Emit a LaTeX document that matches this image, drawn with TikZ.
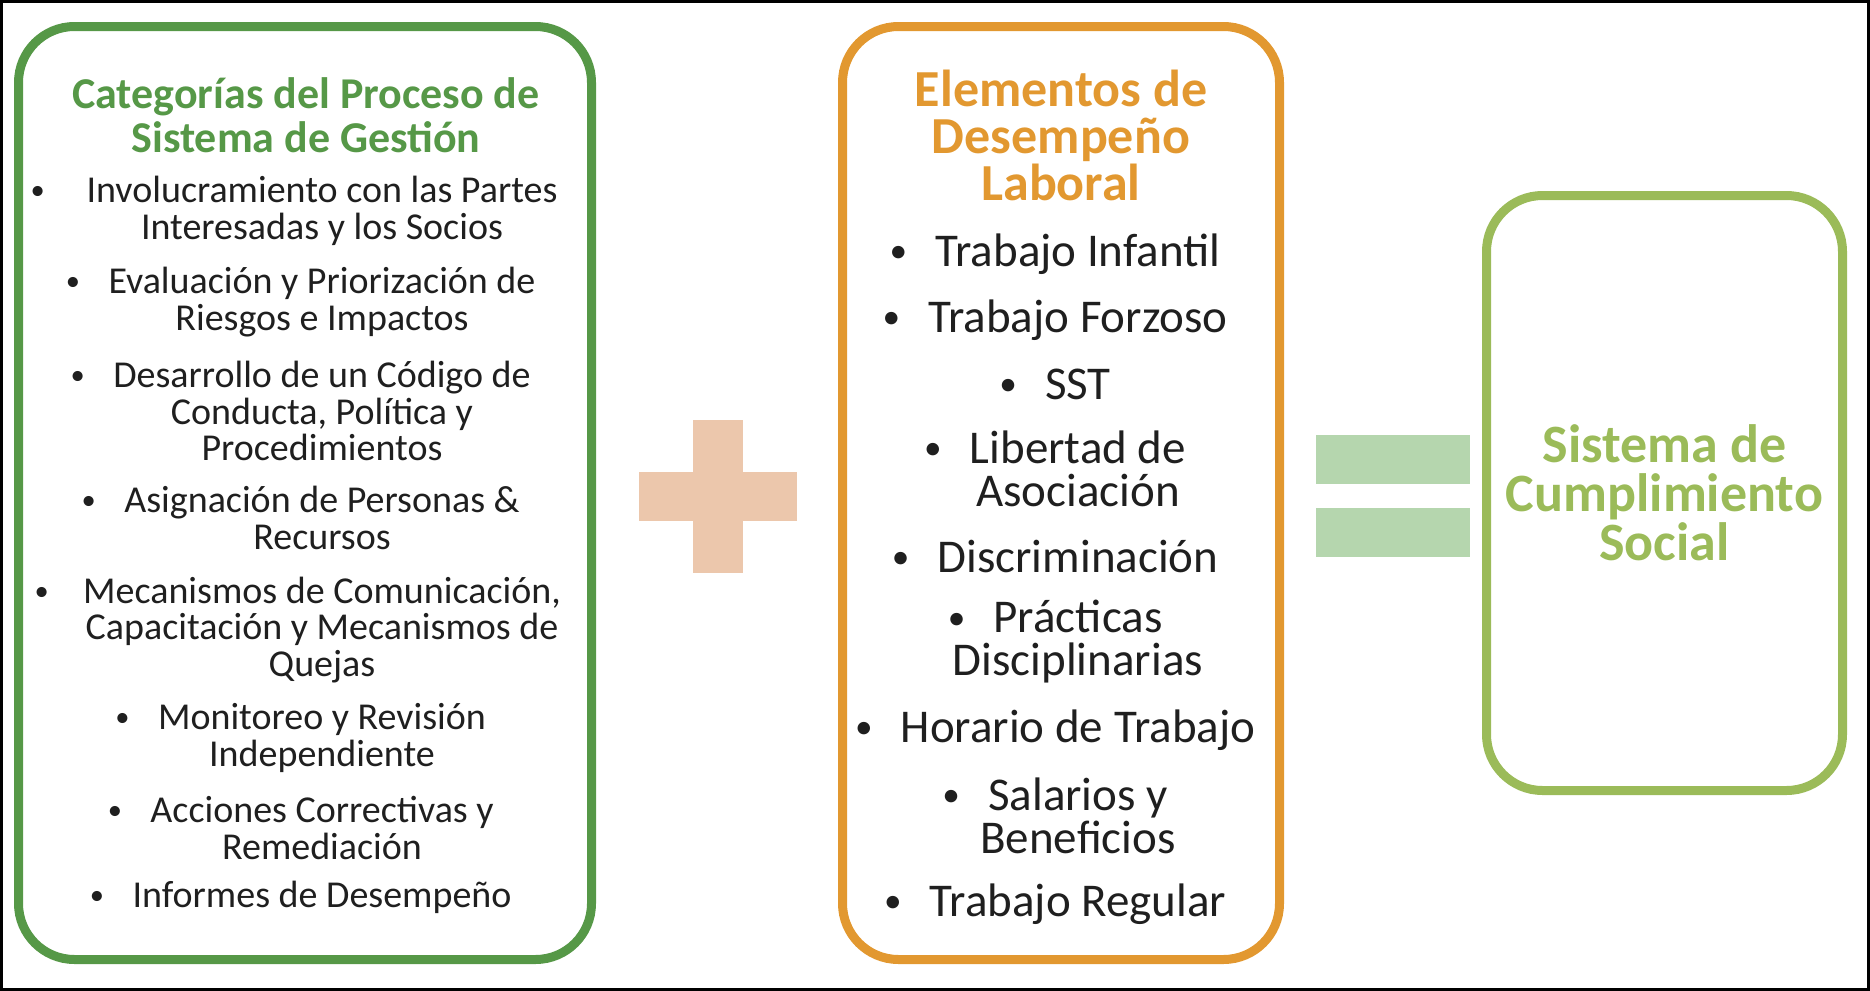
\documentclass[tikz,border=0pt]{standalone}
\usepackage{fontspec}
\setmainfont{Carlito}
\usetikzlibrary{positioning}

\definecolor{catgreen}{RGB}{86,152,71}
\definecolor{elemorange}{RGB}{226,152,48}
\definecolor{sysgreen}{RGB}{155,187,89}
\definecolor{pluspeach}{RGB}{236,199,172}
\definecolor{eqgreen}{RGB}{181,214,174}

\newcommand{\bul}[1]{\llap{\raisebox{0.08em}{\scalebox{0.75}{\textbullet}}\hspace{#1}}}

\tikzset{
	roundbox/.style={draw, line width=4.5pt, rounded corners=28pt, inner sep=0pt},
	catitem/.style={align=center, text=black!88, inner sep=0pt, font=\fontsize{19}{18.3}\selectfont},
	elemitem/.style={align=center, text=black!88, inner sep=0pt, font=\fontsize{23.5}{21.5}\selectfont},
	title/.style={align=center, inner sep=0pt, font=\bfseries\fontsize{22}{22}\selectfont},
}

\begin{document}
\begin{tikzpicture}[x=0.5pt, y=-0.5pt]
		
		\useasboundingbox (0,0) rectangle (1870,991);
		\draw[line width=1.5pt] (1.5,1.5) rectangle (1868.5,989.5);
		
		% the three boxes
		\node[roundbox, draw=catgreen, minimum width=286.5pt, minimum height=466.5pt] (cat) at (305,493) {};
		\node[roundbox, draw=elemorange, minimum width=218.5pt, minimum height=466.5pt] (elem) at (1061,493) {};
		\node[roundbox, draw=sysgreen, minimum width=178pt, minimum height=297.5pt] (sys) at (1664.5,493) {};
		
		% plus and equals
		\fill[pluspeach] (693,420) rectangle (743,573);
		\fill[pluspeach] (639,472) rectangle (797,521);
		\fill[eqgreen] (1316,435) rectangle (1470,484);
		\fill[eqgreen] (1316,508) rectangle (1470,557);
		
		% left box
		\node[title, text=catgreen] (cattitle) at (306,115) {Categorías del Proceso de\\Sistema de Gestión};
		\node[catitem] (c1) at (322,211) {\bul{1.1em}Involucramiento con las Partes\\Interesadas y los Socios};
		\node[catitem] (c2) at (322,302) {\bul{0.75em}Evaluación y Priorización de\\Riesgos e Impactos};
		\node[catitem] (c3) at (322,411) {\bul{0.75em}Desarrollo de un Código de\\Conducta, Política y\\Procedimientos};
		\node[catitem] (c4) at (322,518) {\bul{0.75em}Asignación de Personas \&\\Recursos};
		\node[catitem] (c5) at (322,630) {\bul{0.9em}Mecanismos de Comunicación,\\Capacitación y Mecanismos de\\Quejas};
		\node[catitem] (c6) at (322,738) {\bul{0.75em}Monitoreo y Revisión\\Independiente};
		\node[catitem] (c7) at (322,828) {\bul{0.75em}Acciones Correctivas y\\Remediación};
		\node[catitem] (c8) at (322,897) {\bul{0.75em}Informes de Desempeño};
		
		% middle box
		\node[title, text=elemorange, font=\bfseries\fontsize{26}{23.5}\selectfont] (elemtitle) at (1061,135) {Elementos de\\Desempeño\\Laboral};
		\node[elemitem] (e1) at (1078,254) {\bul{0.6em}Trabajo Infantil};
		\node[elemitem] (e2) at (1078,320) {\bul{0.6em}Trabajo Forzoso};
		\node[elemitem] (e3) at (1078,384) {\bul{0.6em}SST};
		\node[elemitem] (e4) at (1078,469) {\bul{0.6em}Libertad de\\Asociación};
		\node[elemitem] (e5) at (1078,556) {\bul{0.6em}Discriminación};
		\node[elemitem] (e6) at (1078,642) {\bul{0.6em}Prácticas\\Disciplinarias};
		\node[elemitem] (e7) at (1078,730) {\bul{0.6em}Horario de Trabajo};
		\node[elemitem] (e8) at (1078,816) {\bul{0.6em}Salarios y\\Beneficios};
		\node[elemitem] (e9) at (1078,904) {\bul{0.6em}Trabajo Regular};
		
		% right box
		\node[title, text=sysgreen, font=\bfseries\fontsize{27}{24.5}\selectfont] (systitle) at (sys) {Sistema de\\Cumplimiento\\Social};
		
	\end{tikzpicture}
\end{document}
